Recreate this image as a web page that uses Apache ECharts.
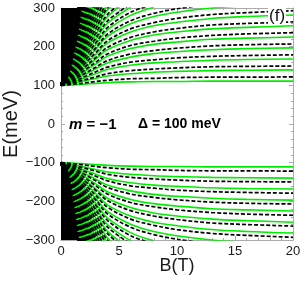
<!DOCTYPE html>
<html><head><meta charset="utf-8">
<script src="https://cdn.jsdelivr.net/npm/echarts@6/dist/echarts.min.js"></script>
<style>html,body{margin:0;padding:0;background:#fff}#c{width:305px;height:284px}</style>
</head><body><div id="c"></div>
<script>
// Magnetic field sample points (T) shared by every level curve
const fieldB = [0, 0.5, 1, 1.5, 2, 3, 4, 6, 8, 10, 13, 16, 20];
const xTicks = [0, 5, 10, 15, 20];
const yTicks = [-300, -200, -100, 0, 100, 200, 300];

// Upper branch, dashed black levels (meV)
const upperDashed = [
[100,101,103,104,106,110,113,117,118,120,121,121,122],
[100,103,106,110,114,122,130,138,142,145,148,149,150],
[100,105,110,115,122,135,147,160,166,171,175,177,179],
[100,107,113,121,130,147,164,181,190,196,202,205,207],
[100,109,117,126,138,160,181,203,214,222,229,233,236],
[100,110,120,132,146,172,198,224,238,247,256,260,264],
[100,112,124,137,154,185,215,246,262,273,283,288,293],
[100,114,127,143,162,197,232,267,286,298,310],
[100,116,131,148,170,210,249,289,310],
[100,118,134,154,178,222,266,310],
[100,119,138,159,186,235,283,332],
[100,121,141,165,194,247,300,353],
[100,123,145,170,202,260,317],
[100,125,148,176,210,272,334],
[100,127,152,181,218,285,351],
[100,128,155,187,226,297,368],
[100,130,159,192,234,310],
[100,132,162,198,242,322],
[100,134,166,203,250,335],
[100,136,169,209,258,347],
[100,137,173,214,266,360],
[100,139,176,220,274,372],
[100,141,180,225,282,385],
[100,143,183,231,290,397],
[100,145,187,236,298,410],
[100,146,190,242,306],
[100,148,194,247,314],
[100,150,197,253,322],
[100,152,201,258,330],
[100,154,204,264,338],
[100,155,208,269,346],
[100,157,211,275,354],
[100,159,215,280,362],
[100,161,218,286,370],
[100,163,222,291,378],
[100,164,225,297,386],
[100,166,229,302,394],
[100,168,232,308]
];
// Upper branch, solid green levels (meV)
const upperGreen = [
[100,101,101,102,103,105,107,109,110,110,111,111,111],
[100,103,105,108,111,118,124,130,134,136,138,139,140],
[100,104,108,113,119,130,141,152,158,161,165,167,168],
[100,106,112,119,127,143,158,173,182,187,192,195,197],
[100,108,115,124,135,155,175,195,206,212,219,222,225],
[100,110,119,130,143,168,192,216,230,238,246,250,254],
[100,112,122,135,151,180,209,238,254,263,273,278,282],
[100,113,126,141,159,193,226,259,278,289,300,306,311],
[100,115,129,146,167,205,243,281,302],
[100,117,133,152,175,218,260,302],
[100,119,136,157,183,230,277,324],
[100,121,140,163,191,243,294,345],
[100,122,143,168,199,255,311],
[100,124,147,174,207,268,328],
[100,126,150,179,215,280,345],
[100,128,154,185,223,293,362],
[100,130,157,190,231,305],
[100,131,161,196,239,318],
[100,133,164,201,247,330],
[100,135,168,207,255,343],
[100,137,171,212,263,355],
[100,139,175,218,271,368],
[100,140,178,223,279,380],
[100,142,182,229,287,393],
[100,144,185,234,295,405],
[100,146,189,240,303],
[100,148,192,245,311],
[100,149,196,251,319],
[100,151,199,256,327],
[100,153,203,262,335],
[100,155,206,267,343],
[100,157,210,273,351],
[100,158,213,278,359],
[100,160,217,284,367],
[100,162,220,289,375],
[100,164,224,295,383],
[100,166,227,300,391],
[100,167,231,306]
];
// Lower branch, dashed black levels (meV)
const lowerDashed = [
[-100,-101,-103,-104,-106,-110,-113,-117,-118,-120,-121,-121,-122],
[-100,-103,-106,-110,-114,-122,-130,-138,-142,-145,-148,-149,-150],
[-100,-105,-110,-115,-122,-135,-147,-160,-166,-171,-175,-177,-179],
[-100,-107,-113,-121,-130,-147,-164,-181,-190,-196,-202,-205,-207],
[-100,-109,-117,-126,-138,-160,-181,-203,-214,-222,-229,-233,-236],
[-100,-110,-120,-132,-146,-172,-198,-224,-238,-247,-256,-260,-264],
[-100,-112,-124,-137,-154,-185,-215,-246,-262,-273,-283,-288,-293],
[-100,-114,-127,-143,-162,-197,-232,-267,-286,-298,-310],
[-100,-116,-131,-148,-170,-210,-249,-289,-310],
[-100,-118,-134,-154,-178,-222,-266,-310],
[-100,-119,-138,-159,-186,-235,-283,-332],
[-100,-121,-141,-165,-194,-247,-300,-353],
[-100,-123,-145,-170,-202,-260,-317],
[-100,-125,-148,-176,-210,-272,-334],
[-100,-127,-152,-181,-218,-285,-351],
[-100,-128,-155,-187,-226,-297,-368],
[-100,-130,-159,-192,-234,-310],
[-100,-132,-162,-198,-242,-322],
[-100,-134,-166,-203,-250,-335],
[-100,-136,-169,-209,-258,-347],
[-100,-137,-173,-214,-266,-360],
[-100,-139,-176,-220,-274,-372],
[-100,-141,-180,-225,-282,-385],
[-100,-143,-183,-231,-290,-397],
[-100,-145,-187,-236,-298,-410],
[-100,-146,-190,-242,-306],
[-100,-148,-194,-247,-314],
[-100,-150,-197,-253,-322],
[-100,-152,-201,-258,-330],
[-100,-154,-204,-264,-338],
[-100,-155,-208,-269,-346],
[-100,-157,-211,-275,-354],
[-100,-159,-215,-280,-362],
[-100,-161,-218,-286,-370],
[-100,-163,-222,-291,-378],
[-100,-164,-225,-297,-386],
[-100,-166,-229,-302,-394],
[-100,-168,-232,-308]
];
// Lower branch, solid green levels (meV)
const lowerGreen = [
[-100,-101,-101,-102,-103,-105,-107,-109,-110,-110,-111,-111,-111],
[-100,-103,-105,-108,-111,-118,-124,-130,-134,-136,-138,-139,-140],
[-100,-104,-108,-113,-119,-130,-141,-152,-158,-161,-165,-167,-168],
[-100,-106,-112,-119,-127,-143,-158,-173,-182,-187,-192,-195,-197],
[-100,-108,-115,-124,-135,-155,-175,-195,-206,-212,-219,-222,-225],
[-100,-110,-119,-130,-143,-168,-192,-216,-230,-238,-246,-250,-254],
[-100,-112,-122,-135,-151,-180,-209,-238,-254,-263,-273,-278,-282],
[-100,-113,-126,-141,-159,-193,-226,-259,-278,-289,-300,-306,-311],
[-100,-115,-129,-146,-167,-205,-243,-281,-302],
[-100,-117,-133,-152,-175,-218,-260,-302],
[-100,-119,-136,-157,-183,-230,-277,-324],
[-100,-121,-140,-163,-191,-243,-294,-345],
[-100,-122,-143,-168,-199,-255,-311],
[-100,-124,-147,-174,-207,-268,-328],
[-100,-126,-150,-179,-215,-280,-345],
[-100,-128,-154,-185,-223,-293,-362],
[-100,-130,-157,-190,-231,-305],
[-100,-131,-161,-196,-239,-318],
[-100,-133,-164,-201,-247,-330],
[-100,-135,-168,-207,-255,-343],
[-100,-137,-171,-212,-263,-355],
[-100,-139,-175,-218,-271,-368],
[-100,-140,-178,-223,-279,-380],
[-100,-142,-182,-229,-287,-393],
[-100,-144,-185,-234,-295,-405],
[-100,-146,-189,-240,-303],
[-100,-148,-192,-245,-311],
[-100,-149,-196,-251,-319],
[-100,-151,-199,-256,-327],
[-100,-153,-203,-262,-335],
[-100,-155,-206,-267,-343],
[-100,-157,-210,-273,-351],
[-100,-158,-213,-278,-359],
[-100,-160,-217,-284,-367],
[-100,-162,-220,-289,-375],
[-100,-164,-224,-295,-383],
[-100,-166,-227,-300,-391],
[-100,-167,-231,-306]
];
// Edge of the dense (black) region at low field
const blobUpperB = [0, 0.3, 0.5, 0.7, 0.9, 1.05, 1.2, 1.4, 1.6, 1.8];
const blobUpperE = [100, 101, 110, 128, 148, 170, 190, 220, 255, 300];
const blobLowerB = [0, 0.3, 0.5, 0.65, 0.8, 1.0, 1.15, 1.3, 1.45, 1.6];
const blobLowerE = [-100, -100, -108, -125, -150, -185, -215, -250, -285, -300];

const FONT = '"Liberation Sans", Arial, sans-serif';
const frame = '#aaaaaa';
const minus = v => String(v).replace('-', '\u2212');

function levelSeries(curves, dashed) {
  return curves.map(c => ({
    type: 'line',
    data: c.map((e, i) => [fieldB[i], e]),
    symbol: 'none',
    smooth: 0.35,
    silent: true,
    z: dashed ? 3 : 2,
    lineStyle: dashed
      ? { color: '#000', width: 1.7, type: [4, 2] }
      : { color: '#00ee00', width: 1.6 }
  }));
}
function blobSeries(bs, es, origin) {
  return {
    type: 'line',
    data: bs.map((b, i) => [b, es[i]]),
    symbol: 'none',
    smooth: 0.3,
    silent: true,
    z: 4,
    lineStyle: { width: 0 },
    areaStyle: { color: '#000', opacity: 1, origin: origin }
  };
}
function xAx(pos, labels) {
  return {
    type: 'value', min: xTicks[0], max: xTicks[xTicks.length - 1], interval: 5, position: pos,
    axisLine: { onZero: false, lineStyle: { color: frame, width: 1 } },
    axisTick: { inside: true, length: 4, lineStyle: { color: frame } },
    minorTick: { show: true, splitNumber: 5, length: 2, lineStyle: { color: frame } },
    splitLine: { show: false },
    axisLabel: { show: labels, color: '#1a1a1a', fontSize: 13, fontFamily: FONT, margin: 5 },
    name: labels ? 'B(T)' : '', nameLocation: 'middle', nameGap: 17, nameMoveOverlap: false,
    nameTextStyle: { fontSize: 18, color: '#1a1a1a', fontFamily: FONT }
  };
}
function yAx(pos, labels) {
  return {
    type: 'value', min: yTicks[0], max: yTicks[yTicks.length - 1], interval: 100, position: pos,
    axisLine: { onZero: false, lineStyle: { color: frame, width: 1 } },
    axisTick: { inside: true, length: 4, lineStyle: { color: frame } },
    minorTick: { show: true, splitNumber: 5, length: 2, lineStyle: { color: frame } },
    splitLine: { show: false },
    axisLabel: { show: labels, color: '#1a1a1a', fontSize: 13, fontFamily: FONT, margin: 6, formatter: minus },
    name: labels ? 'E(meV)' : '', nameLocation: 'middle', nameGap: 40, nameMoveOverlap: false,
    nameTextStyle: { fontSize: 20, color: '#1a1a1a', fontFamily: FONT }
  };
}

const chart = echarts.init(document.getElementById('c'), null, { renderer: 'canvas' });
chart.setOption({
  animation: false,
  backgroundColor: '#fff',
  grid: { left: 61, right: 12, top: 8, bottom: 44, containLabel: false, outerBoundsMode: 'none' },
  xAxis: [xAx('bottom', true), xAx('top', false)],
  yAxis: [yAx('left', true), yAx('right', false)],
  series: [].concat(
    levelSeries(upperGreen, false),
    levelSeries(lowerGreen, false),
    levelSeries(upperDashed, true),
    levelSeries(lowerDashed, true),
    [blobSeries(blobUpperB, blobUpperE, 'end'), blobSeries(blobLowerB, blobLowerE, 'start')]
  ),
  graphic: [
    { type: 'text', left: 69, top: 117, z: 100,
      style: { text: '{i|m} = \u22121', fill: '#000', font: 'bold 15px ' + FONT,
        rich: { i: { fontStyle: 'italic', fontWeight: 'bold', fontSize: 15, fontFamily: FONT } } } },
    { type: 'text', left: 138, top: 117, z: 100,
      style: { text: '\u0394 = 100 meV', fill: '#000', font: 'bold 14px ' + FONT } },
    { type: 'text', left: 268, top: 8, z: 100,
      style: { text: '(f)', fill: '#111', font: '17px ' + FONT, backgroundColor: '#fff', padding: [0, 1] } }
  ]
});
</script></body></html>
